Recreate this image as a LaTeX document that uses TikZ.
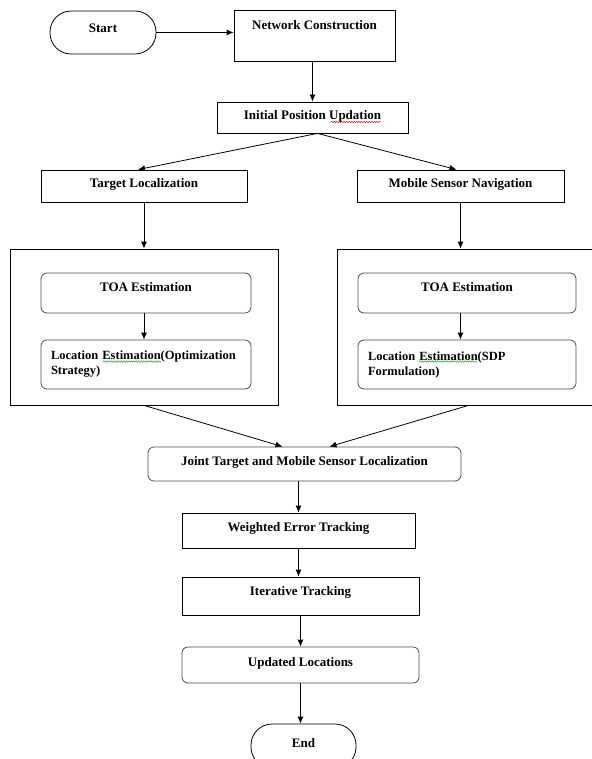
\documentclass[tikz,border=0pt]{standalone}
\usepackage{fontspec}
\setmainfont{Liberation Serif}
\usepackage{tikz}
\usetikzlibrary{arrows.meta}
\usetikzlibrary{calc}
\usetikzlibrary{decorations.pathmorphing}

\begin{document}
\begin{tikzpicture}[x=1pt, y=-1pt, >={Latex[length=7pt,width=6pt]},
    texte/.style={inner sep=0pt, font=\fontsize{13}{15}\selectfont\bfseries},
    haut/.style={text height=9pt, text depth=#1},
    haut/.default=6.5pt,
    boite/.style={texte, draw, line width=.8pt},
    arrondi/.style={boite, draw=black!70, rounded corners=6pt},
    pilule/.style={boite, rounded corners=21pt},
    cadre/.style={draw, line width=.8pt, inner sep=0pt},
    fleche/.style={->, line width=.8pt},
    souligne/.style={decorate, decoration={snake, amplitude=.7pt, segment length=2.5pt}, line width=.45pt}]

    \useasboundingbox (0,0) rectangle (591,759);
    % haut du schéma
    \node[pilule, haut=9.4pt, minimum width=106pt, minimum height=43pt] (start) at (103,32.5) {Start};
    \node[boite, haut=21.4pt, minimum width=161pt, minimum height=51pt] (reseau) at (314.5,35.5) {Network Construction};
    \node[boite, haut=5.4pt, minimum width=191pt, minimum height=31pt] (init) at (312.5,117.5) {Initial Position Updation};
    \node[boite, haut, minimum width=206pt, minimum height=32pt] (cible) at (144,186) {Target Localization};
    \node[boite, haut, minimum width=207pt, minimum height=32pt] (mobile) at (460.5,186) {Mobile Sensor Navigation};
    % cadres
    \node[cadre, minimum width=268pt, minimum height=156pt] (cadreG) at (144,327) {};
    \node[cadre, minimum width=263pt, minimum height=156pt] (cadreD) at (468.5,327) {};
    \node[arrondi, haut=12.4pt, minimum width=210pt, minimum height=40pt] (toaG) at (146,293) {TOA Estimation};
    \node[arrondi, haut=12.4pt, minimum width=218pt, minimum height=40pt] (toaD) at (467,293) {TOA Estimation};
    \node[arrondi, minimum width=210pt, minimum height=49pt, text width=190pt, inner xsep=10pt, align=left,
        font=\fontsize{12.5}{15}\selectfont\bfseries] (locG) at (146,364.5) {Location Estimation(Optimization\\Strategy)};
    \node[arrondi, minimum width=218pt, minimum height=49pt, text width=198pt, inner xsep=10pt, align=left,
        font=\fontsize{12.5}{15}\selectfont\bfseries] (locD) at (467,364.5) {Location Estimation(SDP\\Formulation)};
    % bas du schéma
    \node[arrondi, haut, minimum width=313pt, minimum height=34pt] (joint) at (304.5,464) {Joint Target and Mobile Sensor Localization};
    \node[boite, haut=7.4pt, minimum width=233pt, minimum height=35pt] (erreur) at (298.5,530.5) {Weighted Error Tracking};
    \node[boite, haut=10.4pt, minimum width=237pt, minimum height=38pt] (iter) at (300.5,596) {Iterative Tracking};
    \node[arrondi, haut, minimum width=237pt, minimum height=36pt] (maj) at (300.5,665) {Updated Locations};
    \node[pilule, haut, minimum width=105pt, minimum height=44pt] (fin) at (303.5,746) {End};

    %flèches
    \draw[fleche] (start.east) -- (start.east -| reseau.west);
    \draw[fleche] (reseau.south -| init) -- (init.north);
    \draw[fleche] ($(init.south)+(5,0)$) -- ($(cible.north)+(-6,0)$);
    \draw[fleche] ($(init.south)+(5,0)$) -- ($(mobile.north)+(-4,0)$);
    \draw[fleche] (cible.south) -- (cible.south |- cadreG.north);
    \draw[fleche] (mobile.south) -- (mobile.south |- cadreD.north);
    \draw[fleche] (toaG.south -| cible) -- (locG.north -| cible);
    \draw[fleche] (toaD.south -| mobile) -- (locD.north -| mobile);
    \draw[fleche] (cadreG.south) -- ($(joint.north)+(-22,0)$);
    \draw[fleche] (cadreD.south) -- ($(joint.north)+(25,0)$);
    \draw[fleche] (joint.south -| erreur) -- (erreur.north);
    \draw[fleche] (erreur.south) -- (erreur.south |- iter.north);
    \draw[fleche] (iter.south) -- (maj.north);
    \draw[fleche] (maj.south) -- (maj.south |- fin.north);

    %soulignements
    \draw[souligne, red] (331,122) -- (381,122);
    \draw[souligne, green!60!black] (103,361.5) -- (161,361.5);
    \draw[souligne, green!60!black] (419,361.5) -- (477,361.5);
\end{tikzpicture}
\end{document}
